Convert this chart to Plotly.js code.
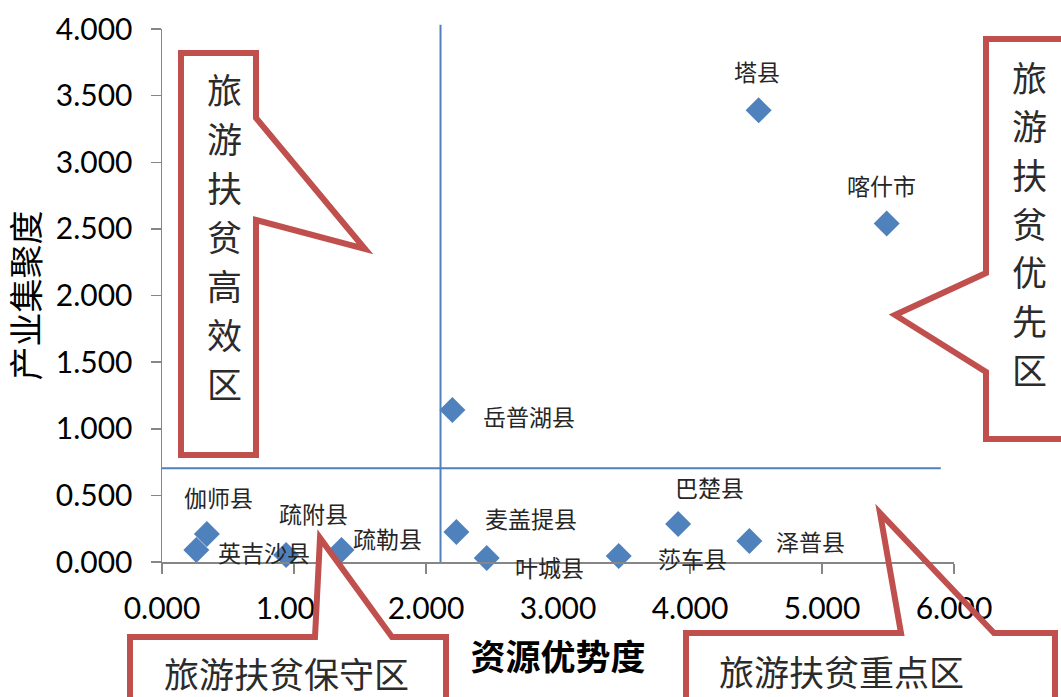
<!DOCTYPE html>
<html><head><meta charset="utf-8">
<script src="https://cdn.plot.ly/plotly-3.0.1.min.js"></script>
<style>html,body{margin:0;padding:0;background:#fff}</style>
</head><body><div id="chart" style="width:1061px;height:697px"></div>
<script>
// ---- data ----
const counties = ['塔县','喀什市','岳普湖县','麦盖提县','叶城县','莎车县','巴楚县','泽普县','伽师县','英吉沙县','疏附县','疏勒县'];
const resourceAdvantage = [4.52, 5.49, 2.20, 2.23, 2.46, 3.46, 3.91, 4.45, 0.34, 0.26, 0.94, 1.36];
const industryConcentration = [3.39, 2.54, 1.14, 0.225, 0.03, 0.045, 0.285, 0.158, 0.21, 0.09, 0.053, 0.09];
const xTickVals = [0, 1, 2, 3, 4, 5, 6];
const yTickVals = [0, 0.5, 1, 1.5, 2, 2.5, 3, 3.5, 4];
const dividerX = 2.11;
const dividerY = 0.703;
const horizontalDividerEnd = 5.9;
const zoneNames = ['旅游扶贫高效区', '旅游扶贫优先区', '旅游扶贫保守区', '旅游扶贫重点区'];
const xTitle = '资源优势度';
const yTitle = '产业集聚度';

// ---- label layout (pixel offsets from each marker) ----
const labelOffsets = [[-2,39],[-5,39],[77,-6],[75,14],[63,-9],[74,-2],[31,37],[61,0],[12,37],[68,-2],[27,42],[46,12]];

const W = 1061, H = 697;
const M = {l:162, r:107, t:29, b:135};
const PW = W - M.l - M.r, PH = H - M.t - M.b;
function px(x){ return (x - M.l) / PW; }
function py(y){ return (H - M.b - y) / PH; }
function path(pts){ return 'M' + pts.map(p => px(p[0]).toFixed(5) + ',' + py(p[1]).toFixed(5)).join(' L') + ' Z'; }

const red = '#C0504D';
const calloutShapes = [
  {pts:[[181,53],[256,53],[256,118],[365,249],[256,220],[256,455],[181,455]], fill:'#ffffff'},
  {pts:[[986,39],[1080,39],[1080,439],[986,439],[986,372],[895,315],[986,273]], fill:'#ffffff'},
  {pts:[[130,637],[315,637],[320,538],[392,637],[446,637],[446,720],[130,720]], fill:'#ffffff'},
  {pts:[[686,633],[901,633],[880,513],[994,633],[1055,633],[1055,720],[686,720]], fill:'rgba(0,0,0,0)'}
];

const shapes = [
  {type:'line', xref:'x', yref:'paper', x0:dividerX, x1:dividerX, y0:0, y1:1.008, line:{color:'#4F81BD', width:2}, layer:'below'},
  {type:'line', xref:'x', yref:'y', x0:0, x1:horizontalDividerEnd, y0:dividerY, y1:dividerY, line:{color:'#4F81BD', width:2}, layer:'below'}
];
calloutShapes.forEach(c => shapes.push({type:'path', xref:'paper', yref:'paper', path:path(c.pts), fillcolor:c.fill, line:{color:red, width:6}, layer:'above'}));

const annotations = [];
counties.forEach((c,i) => {
  annotations.push({x:resourceAdvantage[i], y:industryConcentration[i], xref:'x', yref:'y', text:c, showarrow:false,
    xanchor:'center', yanchor:'middle', xshift:labelOffsets[i][0], yshift:labelOffsets[i][1],
    font:{family:'Noto Sans CJK SC', size:23, color:'#262626'}});
});
// vertical callout texts
const calloutFont = {family:'Noto Sans CJK SC', size:35, color:'#2b2b2b'};
function verticalText(str, cx, y0, step){
  Array.from(str).forEach((ch,k) => annotations.push({xref:'paper', yref:'paper', x:px(cx), y:py(y0 + k*step), text:ch,
    showarrow:false, xanchor:'center', yanchor:'middle', font:calloutFont}));
}
verticalText(zoneNames[0], 224, 88, 49);
verticalText(zoneNames[1], 1029, 76, 48.7);
annotations.push({xref:'paper', yref:'paper', x:px(286), y:py(673), text:zoneNames[2], showarrow:false, xanchor:'center', yanchor:'middle', font:calloutFont});
annotations.push({xref:'paper', yref:'paper', x:px(841), y:py(670), text:zoneNames[3], showarrow:false, xanchor:'center', yanchor:'middle', font:calloutFont});

const trace = {
  x: resourceAdvantage, y: industryConcentration, text: counties, type:'scatter', mode:'markers',
  marker:{symbol:'diamond', size:20, color:'#4F81BD'}, hoverinfo:'text', cliponaxis:false
};

const axisCommon = {showgrid:false, zeroline:false, showline:true, linecolor:'#868686', linewidth:1.5,
  ticks:'outside', ticklen:10, tickcolor:'#868686', tickwidth:1.5, tickformat:'.3f',
  tickfont:{family:'Lato', size:30, color:'#000'}, automargin:false, fixedrange:true};

const layout = {
  width:W, height:H, margin:M, paper_bgcolor:'#fff', plot_bgcolor:'#fff', showlegend:false,
  xaxis: Object.assign({}, axisCommon, {range:[0,6], tickvals:xTickVals, ticklabelstandoff:9,
    title:{text:xTitle, font:{family:'Noto Sans CJK SC', size:35, color:'#000', weight:'bold'}, standoff:22}}),
  yaxis: Object.assign({}, axisCommon, {range:[0,4], tickvals:yTickVals, ticklabelstandoff:12,
    title:{text:yTitle, font:{family:'Noto Sans CJK SC', size:34, color:'#000'}, standoff:6}}),
  shapes: shapes, annotations: annotations
};

Plotly.newPlot('chart', [trace], layout, {displayModeBar:false, staticPlot:true});
</script></body></html>
